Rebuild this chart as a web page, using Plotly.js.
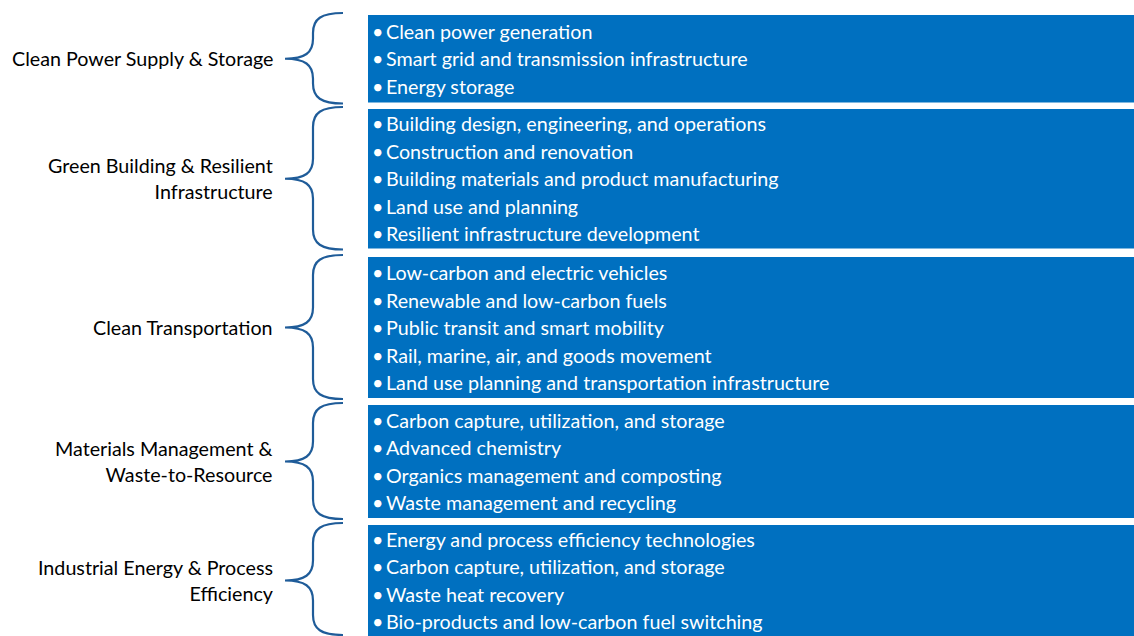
<!DOCTYPE html>
<html>
<head>
<meta charset="utf-8">
<script src="https://cdn.plot.ly/plotly-3.0.1.min.js"></script>
<style>html,body{margin:0;padding:0;background:#fff;}#chart{width:1134px;height:636px;}</style>
</head>
<body>
<div id="chart"></div>
<script>
// ---- data ----
const categories = [
  "Clean Power Supply & Storage",
  "Green Building & Resilient<br>Infrastructure",
  "Clean Transportation",
  "Materials Management &<br>Waste-to-Resource",
  "Industrial Energy & Process<br>Efficiency"
];
const itemsPower = [
  "Clean power generation",
  "Smart grid and transmission infrastructure",
  "Energy storage"
];
const itemsBuilding = [
  "Building design, engineering, and operations",
  "Construction and renovation",
  "Building materials and product manufacturing",
  "Land use and planning",
  "Resilient infrastructure development"
];
const itemsTransport = [
  "Low-carbon and electric vehicles",
  "Renewable and low-carbon fuels",
  "Public transit and smart mobility",
  "Rail, marine, air, and goods movement",
  "Land use planning and transportation infrastructure"
];
const itemsMaterials = [
  "Carbon capture, utilization, and storage",
  "Advanced chemistry",
  "Organics management and composting",
  "Waste management and recycling"
];
const itemsIndustrial = [
  "Energy and process efficiency technologies",
  "Carbon capture, utilization, and storage",
  "Waste heat recovery",
  "Bio-products and low-carbon fuel switching"
];
const itemGroups = [itemsPower, itemsBuilding, itemsTransport, itemsMaterials, itemsIndustrial];

// ---- layout constants (pixel space) ----
const W = 1134, H = 636;
const boxTops = [15, 109, 257, 405, 525];
const boxBottoms = [102.5, 248.5, 398, 518, 636];
const boxX0 = 368, boxX1 = 1134;
const lineStep = 27.5;
const boxColor = "#0070C0";
const braceColor = "#1F5C99";
const FONT = "Lato, 'Open Sans', sans-serif";
const FS = 19.7;

const shapes = [];
const annotations = [];

for (let i = 0; i < categories.length; i++) {
  const t = boxTops[i], b = boxBottoms[i];
  const mid = (t + b) / 2;
  shapes.push({type: "rect", xref: "x", yref: "y", x0: boxX0, x1: boxX1, y0: t, y1: b,
    fillcolor: boxColor, line: {width: 0}, layer: "below"});

  // curly brace
  const bt = t - 2, bb = Math.min(b + 1, H - 1);
  const xe = 343, xv = 313, xt = 285;
  const p = `M ${xe} ${bt} C ${xv+8} ${bt}, ${xv} ${bt+6}, ${xv} ${bt+20} ` +
            `L ${xv} ${mid-20} C ${xv} ${mid-6}, ${xv-8} ${mid}, ${xt} ${mid} ` +
            `C ${xv-8} ${mid}, ${xv} ${mid+6}, ${xv} ${mid+20} ` +
            `L ${xv} ${bb-20} C ${xv} ${bb-6}, ${xv+8} ${bb}, ${xe} ${bb}`;
  shapes.push({type: "path", xref: "x", yref: "y", path: p,
    line: {color: braceColor, width: 2.2}});

  annotations.push({x: 275, y: mid, xref: "x", yref: "y", text: categories[i],
    xanchor: "right", yanchor: "middle", align: "right", showarrow: false,
    font: {family: FONT, size: FS, color: "#000"}});

  const items = itemGroups[i];
  const n = items.length;
  for (let k = 0; k < n; k++) {
    const y = mid + (k - (n - 1) / 2) * lineStep;
    annotations.push({x: 370, y: y, xref: "x", yref: "y", text: "•",
      xanchor: "left", yanchor: "middle", showarrow: false,
      font: {family: FONT, size: FS, color: "#fff"}});
    annotations.push({x: 384, y: y, xref: "x", yref: "y", text: items[k],
      xanchor: "left", yanchor: "middle", align: "left", showarrow: false,
      font: {family: FONT, size: FS, color: "#fff"}});
  }
}

const layout = {
  width: W, height: H,
  margin: {l: 0, r: 0, t: 0, b: 0},
  paper_bgcolor: "#fff", plot_bgcolor: "#fff",
  xaxis: {range: [0, W], visible: false, fixedrange: true},
  yaxis: {range: [H, 0], visible: false, fixedrange: true},
  shapes: shapes,
  annotations: annotations,
  showlegend: false
};

Plotly.newPlot("chart", [{x: [], y: [], type: "scatter", mode: "markers", hoverinfo: "skip"}],
  layout, {staticPlot: true, displayModeBar: false});
</script>
</body>
</html>
